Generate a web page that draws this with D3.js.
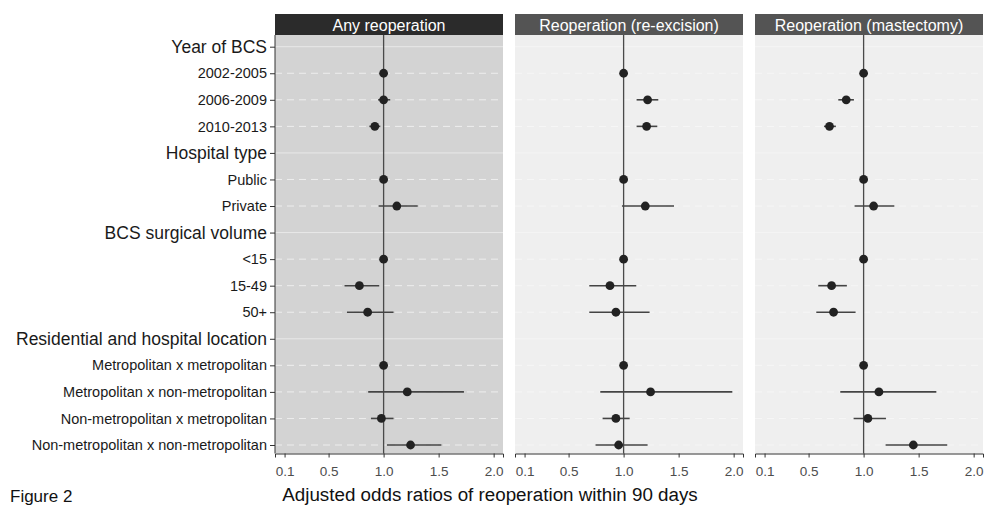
<!DOCTYPE html>
<html><head><meta charset="utf-8">
<script src="https://cdn.jsdelivr.net/npm/d3@7"></script>
<style>body{margin:0;background:#fff;} svg{font-family:"Liberation Sans",Arial,sans-serif;}</style>
</head><body><svg id="c" width="989" height="518"></svg>
<script>
const rows = ["Year of BCS","2002-2005","2006-2009","2010-2013","Hospital type","Public","Private","BCS surgical volume","<15","15-49","50+","Residential and hospital location","Metropolitan x metropolitan","Metropolitan x non-metropolitan","Non-metropolitan x metropolitan","Non-metropolitan x non-metropolitan"];
const headers = ["Year of BCS","Hospital type","BCS surgical volume","Residential and hospital location"];
const panels = ["Any reoperation","Reoperation (re-excision)","Reoperation (mastectomy)"];
const xTicks = [0.1,0.5,1.0,1.5,2.0];
const items = ["2002-2005","2006-2009","2010-2013","Public","Private","<15","15-49","50+","Metropolitan x metropolitan","Metropolitan x non-metropolitan","Non-metropolitan x metropolitan","Non-metropolitan x non-metropolitan"];
// [estimate, lower, upper]; null CI = reference
const anyReop = [[1,null,null],[1.0,0.95,1.06],[0.92,0.87,0.97],[1,null,null],[1.12,0.955,1.31],[1,null,null],[0.78,0.645,0.96],[0.855,0.667,1.09],[1,null,null],[1.215,0.86,1.73],[0.98,0.885,1.09],[1.245,1.03,1.525]];
const reExcision = [[1,null,null],[1.218,1.118,1.315],[1.209,1.118,1.306],[1,null,null],[1.197,0.985,1.458],[1,null,null],[0.876,0.688,1.115],[0.93,0.688,1.236],[1,null,null],[1.245,0.788,1.988],[0.93,0.809,1.055],[0.955,0.745,1.218]];
const mastectomy = [[1,null,null],[0.842,0.77,0.912],[0.69,0.64,0.748],[1,null,null],[1.091,0.918,1.279],[1,null,null],[0.709,0.588,0.848],[0.727,0.57,0.927],[1,null,null],[1.139,0.788,1.661],[1.039,0.909,1.203],[1.452,1.2,1.76]];
const seriesData = [anyReop, reExcision, mastectomy];

const svg = d3.select("#c");
const pTop = 35, pBottom = 453.5;
const y = d3.scalePoint().domain(rows).range([46.7, 445]);
const panelX = [275, 515, 755], pw = 228;
const bgs = ["#d3d3d3","#efefef","#efefef"], strips = ["#2b2b2b","#545454","#545454"];

panels.forEach((title, pi) => {
  const x0 = panelX[pi];
  const x = d3.scaleLinear().domain([0.013, 2.085]).range([x0, x0 + pw]);
  const g = svg.append("g");
  g.append("rect").attr("x", x0).attr("y", pTop).attr("width", pw).attr("height", pBottom - pTop).attr("fill", bgs[pi]);
  // strip
  g.append("rect").attr("x", x0).attr("y", 14).attr("width", pw).attr("height", 21).attr("fill", strips[pi]);
  g.append("text").attr("x", x0 + pw/2).attr("y", 30.5).attr("text-anchor","middle").attr("fill","#fff").attr("font-size",16).text(title);
  // gridlines
  rows.forEach(r => {
    const isH = headers.includes(r);
    g.append("line").attr("x1", x0).attr("x2", x0 + pw).attr("y1", y(r)).attr("y2", y(r))
      .attr("stroke", "#fafafa").attr("stroke-width", 1).attr("stroke-opacity", isH ? 0.55 : 0.7)
      .attr("stroke-dasharray", isH ? null : "7,5");
  });
  // reference line
  g.append("line").attr("x1", x(1)).attr("x2", x(1)).attr("y1", pTop).attr("y2", pBottom).attr("stroke","#4a4a4a").attr("stroke-width",1.3);
  // CIs and points
  const data = seriesData[pi].map((d,i)=>({row: items[i], est: d[0], lo: d[1], hi: d[2]}));
  g.selectAll(".ci").data(data.filter(d=>d.lo!==null)).join("line")
    .attr("x1", d=>x(d.lo)).attr("x2", d=>x(d.hi)).attr("y1", d=>y(d.row)).attr("y2", d=>y(d.row))
    .attr("stroke","#444").attr("stroke-width",1.6);
  g.selectAll(".pt").data(data).join("circle")
    .attr("cx", d=>x(d.est)).attr("cy", d=>y(d.row)).attr("r", 4.4).attr("fill","#222");
  // x axis
  const ax = g.append("g").attr("transform", `translate(0,${pBottom})`)
    .call(d3.axisBottom(x).tickValues(xTicks).tickFormat(d3.format(".1f")).tickSizeOuter(0).tickSize(4));
  ax.select(".domain").attr("stroke","#333");
  ax.selectAll(".tick line").attr("stroke","#333");
  ax.selectAll(".tick text").attr("font-size",13.5).attr("fill","#4d4d4d").attr("dy","1.15em").attr("font-family","Liberation Sans, Arial, sans-serif");
  if (pi === 0) {
    const ay = g.append("g").attr("transform", `translate(${x0},0)`)
      .call(d3.axisLeft(y).tickSize(5).tickSizeOuter(0).tickPadding(3));
    ay.select(".domain").attr("stroke","#333").attr("d", `M0,${pTop}V${pBottom}`);
    ay.selectAll(".tick line").attr("stroke","#333");
    ay.selectAll(".tick text").attr("fill","#1a1a1a").attr("font-family","Liberation Sans, Arial, sans-serif")
      .attr("font-size", d => headers.includes(d) ? 17.5 : 14.5);
  }
});

svg.append("text").attr("x", 490).attr("y", 501).attr("text-anchor","middle").attr("font-size",18.8).attr("fill","#111")
  .text("Adjusted odds ratios of reoperation within 90 days");
svg.append("text").attr("x", 10).attr("y", 502).attr("font-size",17).attr("fill","#111").text("Figure 2");
</script></body></html>
